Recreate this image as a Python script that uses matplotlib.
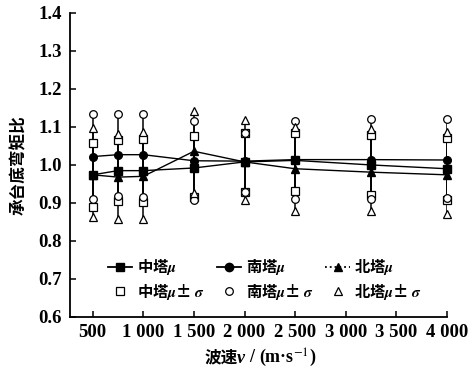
import matplotlib
matplotlib.use('Agg')
import matplotlib.pyplot as plt
from matplotlib.lines import Line2D
from matplotlib.offsetbox import TextArea, HPacker, AnchoredOffsetbox

plt.rcParams['mathtext.fontset'] = 'stix'

# wave speed (m/s)
speeds = [500, 750, 1000, 1500, 2000, 2500, 3250, 4000]
xtick_vals = [500, 1000, 1500, 2000, 2500, 3000, 3500, 4000]
xtick_labels = ['500', '1 000', '1 500', '2 000', '2 500', '3 000', '3 500', '4 000']

# mean ratio per tower
mid_mu = [0.974, 0.985, 0.985, 0.992, 1.008, 1.012, 1.000, 0.990]
south_mu = [1.022, 1.027, 1.027, 1.011, 1.010, 1.014, 1.014, 1.013]
north_mu = [0.974, 0.968, 0.970, 1.036, 1.008, 0.990, 0.981, 0.974]

# mu + sigma / mu - sigma
mid_hi = [1.059, 1.066, 1.068, 1.077, 1.085, 1.085, 1.078, 1.072]
mid_lo = [0.890, 0.904, 0.903, 0.916, 0.930, 0.932, 0.922, 0.907]
south_hi = [1.133, 1.133, 1.133, 1.116, 1.085, 1.116, 1.120, 1.120]
south_lo = [0.911, 0.918, 0.916, 0.907, 0.930, 0.911, 0.911, 0.913]
north_hi = [1.096, 1.081, 1.087, 1.142, 1.118, 1.100, 1.094, 1.087]
north_lo = [0.863, 0.859, 0.857, 0.927, 0.908, 0.880, 0.878, 0.870]

CJK = 'Noto Sans CJK SC'
SERIF = 'Liberation Serif'

fig = plt.figure(figsize=(4.69, 3.69), dpi=100)
ax = fig.add_axes([0.149, 0.141, 0.804, 0.824])

series = [
    ('中塔', 's', mid_mu, mid_hi, mid_lo),
    ('南塔', 'o', south_mu, south_hi, south_lo),
    ('北塔', '^', north_mu, north_hi, north_lo),
]

for name, mk, mu, hi, lo in series:
    ax.vlines(speeds, lo, hi, color='k', lw=1.1, zorder=1)

mu_handles = []
sd_handles = []
for name, mk, mu, hi, lo in series:
    ax.plot(speeds, mu, color='k', lw=1.0, marker=mk, ms=5.5, mfc='k', mec='k',
            zorder=3, clip_on=False)
    ax.plot(speeds, hi, ls='none', marker=mk, ms=5.5, mfc='white', mec='k', mew=0.9,
            zorder=2, clip_on=False)
    ax.plot(speeds, lo, ls='none', marker=mk, ms=5.5, mfc='white', mec='k', mew=0.9,
            zorder=2, clip_on=False)
    ls = ':' if name == '北塔' else '-'
    mu_handles.append(Line2D([], [], color='k', lw=1.3, ls=ls, marker=mk, ms=6,
                             mfc='k', mec='k', label=name + r'$\boldsymbol{\mu}$'))
    sd_handles.append(Line2D([], [], ls='none', marker=mk, ms=5.5, mfc='white',
                             mec='k', mew=0.9,
                             label=name + r'$\boldsymbol{\mu}$± $\boldsymbol{\sigma}$'))

handles = []
for a, b in zip(mu_handles, sd_handles):
    handles += [a, b]
leg = ax.legend(handles=handles, ncol=3, frameon=False, loc='lower left',
                bbox_to_anchor=(0.085, 0.03), handlelength=1.6, handletextpad=0.3,
                columnspacing=0.8, labelspacing=0.3, borderaxespad=0,
                prop={'family': CJK, 'weight': 'bold', 'size': 11})

ax.set_xlim(275, 4000)
ax.set_ylim(0.6, 1.4)
ax.set_xticks(xtick_vals)
ax.set_xticklabels(xtick_labels)
ax.set_yticks([0.6, 0.7, 0.8, 0.9, 1.0, 1.1, 1.2, 1.3, 1.4])
ax.set_yticklabels(['0.6', '0.7', '0.8', '0.9', '1.0', '1.1', '1.2', '1.3', '1.4'])
for lab in ax.get_xticklabels() + ax.get_yticklabels():
    lab.set_fontfamily(SERIF)
    lab.set_fontweight('bold')
    lab.set_fontsize(13.5)
ax.tick_params(direction='in', length=4, width=1.1, pad=5)
ax.tick_params(axis='y', pad=6)

ax.spines['top'].set_visible(False)
ax.spines['right'].set_visible(False)
ax.spines['left'].set_linewidth(1.3)
ax.spines['bottom'].set_linewidth(1.3)

ax.set_ylabel('承台底弯矩比', family=CJK, weight='bold', fontsize=12, labelpad=7)

parts = [
    TextArea('波速', textprops=dict(family=CJK, weight='bold', size=12)),
    TextArea('v', textprops=dict(family=SERIF, style='italic', weight='bold', size=13)),
    TextArea(' / (m·s$^{-1}$)', textprops=dict(family=SERIF, weight='bold', size=13)),
]
box = HPacker(children=parts, align='baseline', pad=0, sep=0)
xlab = AnchoredOffsetbox(loc='lower center', child=box, frameon=False, pad=0,
                         borderpad=0, bbox_to_anchor=(0.555, 0.0),
                         bbox_transform=fig.transFigure)
fig.add_artist(xlab)

fig.savefig('out.png', dpi=100)
